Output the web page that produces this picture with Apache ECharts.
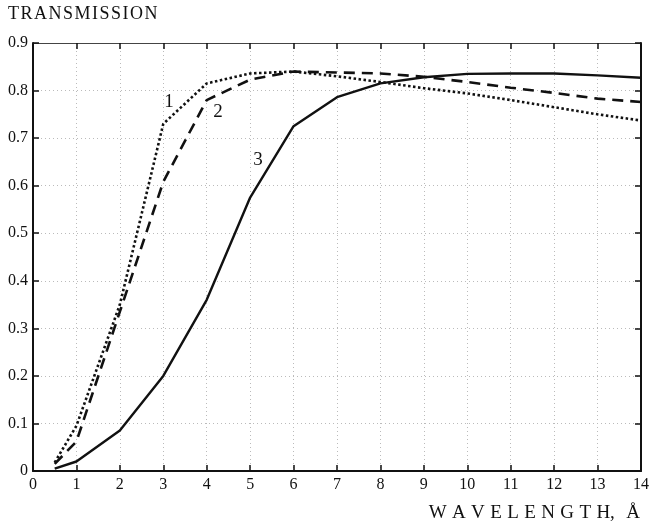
<!DOCTYPE html>
<html><head><meta charset="utf-8">
<script src="https://cdn.jsdelivr.net/npm/echarts@6/dist/echarts.min.js"></script>
<style>html,body{margin:0;padding:0;background:#fff}#c{width:652px;height:528px}</style>
</head><body><div id="c"></div>
<script>
const wavelength = [0.5, 1, 2, 3, 4, 5, 6, 7, 8, 9, 10, 11, 12, 13, 14];
const curve1 = [0.018, 0.095, 0.35, 0.73, 0.815, 0.836, 0.84, 0.83, 0.818, 0.805, 0.794, 0.78, 0.765, 0.75, 0.737];
const curve2 = [0.015, 0.062, 0.335, 0.608, 0.78, 0.823, 0.84, 0.838, 0.836, 0.829, 0.818, 0.806, 0.795, 0.783, 0.776];
const curve3 = [0.005, 0.02, 0.085, 0.2, 0.36, 0.575, 0.725, 0.786, 0.815, 0.828, 0.835, 0.836, 0.836, 0.832, 0.827];
const curveNames = ['1', '2', '3'];
const labelPos = [[3.13, 0.776], [4.26, 0.755], [5.18, 0.654]];
const xTicks = [0,1,2,3,4,5,6,7,8,9,10,11,12,13,14];
const yTicks = [0,0.1,0.2,0.3,0.4,0.5,0.6,0.7,0.8,0.9];

const FONT = '"Liberation Serif", "DejaVu Serif", serif';
const pair = (xs, ys) => xs.map((x, i) => [x, ys[i]]);
const lblMark = (i) => ({
  symbol: 'none', silent: true,
  label: {show: true, formatter: curveNames[i], color: '#111', fontFamily: FONT, fontSize: 19, position: 'inside'},
  data: [{coord: labelPos[i], symbol: 'circle', symbolSize: 1, itemStyle:{color:'rgba(0,0,0,0)'}}]
});
const gridLine = {show: true, lineStyle: {color: '#bbb', type: [1, 3], width: 1}};
const chart = echarts.init(document.getElementById('c'));
chart.setOption({
  animation: false,
  backgroundColor: '#fff',
  grid: {left: 33, right: 11, top: 43, bottom: 57},
  xAxis: [{
    type: 'value', min: 0, max: 14, interval: 1,
    axisLine: {show: true, onZero: false, lineStyle: {color: '#111', width: 2}},
    axisTick: {show: true, inside: true, length: 6, lineStyle: {color: '#111', width: 1.5}},
    axisLabel: {color: '#111', fontFamily: FONT, fontSize: 16, margin: 6, formatter: v => String(xTicks[Math.round(v)])},
    splitLine: gridLine
  }, {
    type: 'value', position: 'top', min: 0, max: 14, interval: 1,
    axisLine: {show: true, onZero: false, lineStyle: {color: '#444', width: 1}},
    axisTick: {show: true, inside: true, length: 6, lineStyle: {color: '#111', width: 1.5}},
    axisLabel: {show: false}, splitLine: {show: false}
  }],
  yAxis: [{
    type: 'value', min: 0, max: 0.9, interval: 0.1,
    axisLine: {show: true, onZero: false, lineStyle: {color: '#111', width: 2}},
    axisTick: {show: true, inside: true, length: 6, lineStyle: {color: '#111', width: 1.5}},
    axisLabel: {color: '#111', fontFamily: FONT, fontSize: 16, margin: 5,
      formatter: v => { const k = yTicks.findIndex(t => Math.abs(t - v) < 1e-9); return k === 0 ? '0' : yTicks[k].toFixed(1); }},
    splitLine: gridLine
  }, {
    type: 'value', position: 'right', min: 0, max: 0.9, interval: 0.1,
    axisLine: {show: true, onZero: false, lineStyle: {color: '#111', width: 2}},
    axisTick: {show: true, inside: true, length: 6, lineStyle: {color: '#111', width: 1.5}},
    axisLabel: {show: false}, splitLine: {show: false}
  }],
  graphic: [
    {type: 'text', left: 8, top: 5, style: {text: 'T\u200AR\u200AA\u200AN\u200AS\u200AM\u200AI\u200AS\u200AS\u200AI\u200AO\u200AN', font: '18px ' + FONT, fill: '#111'}},
    {type: 'text', right: 12, top: 504, style: {text: 'W\u2009\u200AA\u2009\u200AV\u2009\u200AE\u2009\u200AL\u2009\u200AE\u2009\u200AN\u2009\u200AG\u2009\u200AT\u2009\u200AH,\u2009\u2009\u2009Å', font: '19px ' + FONT, fill: '#111'}}
  ],
  series: [
    {type: 'line', name: curveNames[0], data: pair(wavelength, curve1), symbol: 'none', clip: false,
     lineStyle: {color: '#111', width: 2.6, type: [2.5, 2.5]}, markPoint: lblMark(0)},
    {type: 'line', name: curveNames[1], data: pair(wavelength, curve2), symbol: 'none', clip: false,
     lineStyle: {color: '#111', width: 2.6, type: [11, 7]}, markPoint: lblMark(1)},
    {type: 'line', name: curveNames[2], data: pair(wavelength, curve3), symbol: 'none', clip: false,
     lineStyle: {color: '#111', width: 2.4}, markPoint: lblMark(2)}
  ]
});
</script></body></html>
